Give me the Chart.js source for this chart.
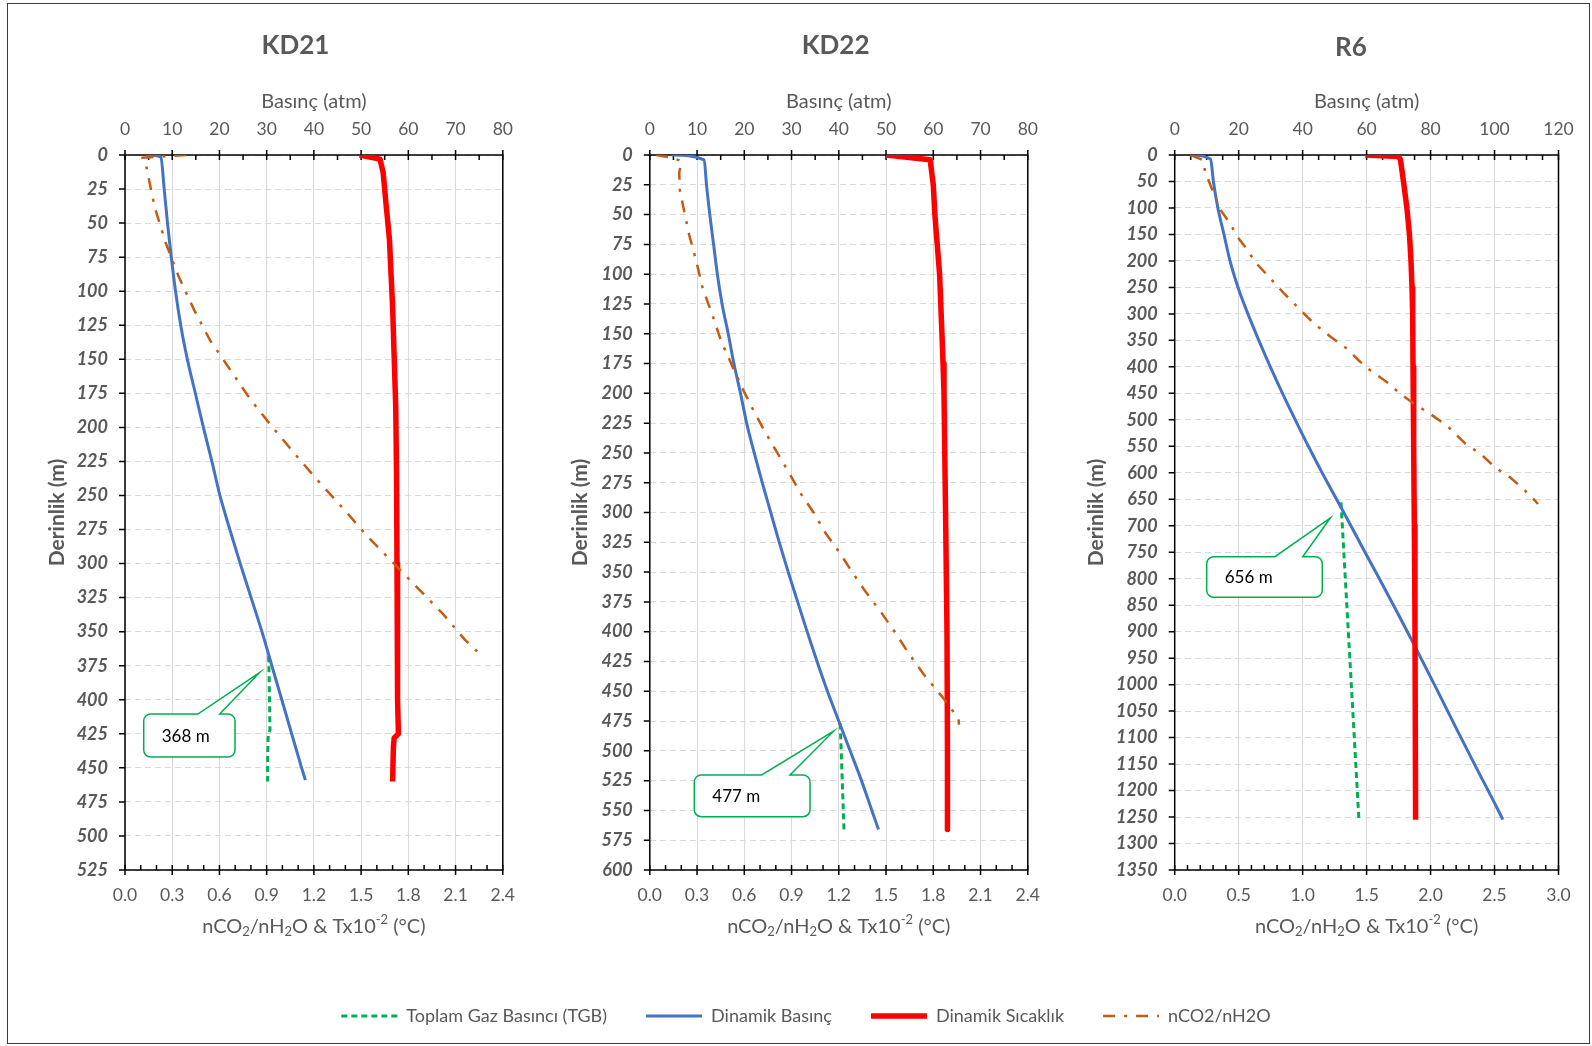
<!DOCTYPE html>
<html lang="tr">
<head>
<meta charset="utf-8">
<title>KD21, KD22, R6 – Derinlik profilleri</title>
<script src="https://cdn.jsdelivr.net/npm/chart.js@4.4.1/dist/chart.umd.min.js"></script>
<style>
  html, body { margin: 0; padding: 0; background: #ffffff; }
  body { width: 1592px; height: 1046px; position: relative; overflow: hidden; }
  #frame { position: absolute; left: 7px; top: 3px; width: 1583px; height: 1041px; border: 1px solid #3c3c3c; box-sizing: border-box; }
  .box { position: absolute; }
  #p1 { left: 0; top: 0; width: 530px; height: 960px; }
  #p2 { left: 530px; top: 0; width: 525px; height: 960px; }
  #p3 { left: 1055px; top: 0; width: 537px; height: 960px; }
  #lg { left: 10px; top: 968px; width: 1592px; height: 78px; }
</style>
</head>
<body>
<div id="frame"></div>
<div class="box" id="p1"><canvas id="c1"></canvas></div>
<div class="box" id="p2"><canvas id="c2"></canvas></div>
<div class="box" id="p3"><canvas id="c3"></canvas></div>
<div class="box" id="lg"><canvas id="c4"></canvas></div>
<script>
// ---------- KD21 ----------
const kd21PresAxis = [0, 80, 10];        // Basınç (atm): min, max, step
const kd21RatioAxis = [0, 2.4, 0.3];     // nCO2/nH2O & Tx10^-2
const kd21DepthAxis = [0, 525, 25];      // Derinlik (m)
const kd21TgbDepth = [368, 380, 400, 422, 428, 445, 460];
const kd21Tgb      = [30.4, 30.5, 30.6, 30.7, 30.3, 30.2, 30.2];
const kd21PresDepth = [0, 1.5, 25, 50, 75, 100, 125, 150, 175, 200, 225, 250, 275, 300, 325, 350, 375, 400, 425, 450, 459];
const kd21Pres      = [4.5, 7.6, 8.3, 9.0, 9.8, 10.7, 11.8, 13.2, 14.9, 16.6, 18.4, 20.1, 22.2, 24.4, 26.7, 29.0, 31.1, 33.2, 35.3, 37.4, 38.2];
const kd21TempDepth = [0, 3, 13, 38, 62, 87, 111, 148, 185, 234, 300, 350, 400, 425, 428, 435, 460];
const kd21Temp      = [1.49, 1.62, 1.64, 1.66, 1.68, 1.69, 1.70, 1.71, 1.72, 1.725, 1.728, 1.73, 1.733, 1.737, 1.71, 1.705, 1.70];
const kd21RatioDepth = [0, 2, 5, 14, 39, 65, 89, 114, 136, 158, 180, 201, 221, 241, 260, 280, 299, 318, 337, 356, 368];
const kd21Ratio      = [0.39, 0.11, 0.13, 0.145, 0.19, 0.26, 0.34, 0.44, 0.54, 0.67, 0.80, 0.945, 1.09, 1.24, 1.39, 1.54, 1.70, 1.86, 2.02, 2.16, 2.27];

// ---------- KD22 ----------
const kd22PresAxis = [0, 80, 10];
const kd22RatioAxis = [0, 2.4, 0.3];
const kd22DepthAxis = [0, 600, 25];
const kd22TgbDepth = [477, 566];
const kd22Tgb      = [40.3, 41.1];
const kd22PresDepth = [0, 4, 25, 50, 75, 100, 125, 150, 175, 200, 225, 250, 275, 300, 325, 350, 375, 400, 425, 450, 475, 500, 525, 550, 566];
const kd22Pres      = [4.6, 11.5, 12.0, 12.7, 13.5, 14.3, 15.3, 16.6, 17.8, 19.2, 20.5, 22.1, 23.8, 25.6, 27.4, 29.3, 31.3, 33.3, 35.4, 37.6, 40.0, 42.4, 44.8, 47.0, 48.4];
const kd22TempDepth = [0, 4, 25, 50, 75, 100, 150, 175, 200, 300, 400, 500, 566];
const kd22Temp      = [1.50, 1.78, 1.80, 1.81, 1.825, 1.84, 1.855, 1.862, 1.868, 1.878, 1.887, 1.89, 1.89];
const kd22RatioDepth = [0, 2, 5, 15, 29, 47, 67, 89, 112, 133, 155, 177, 195, 214, 232, 250, 267, 284, 300, 317, 334, 351, 367, 384, 401, 419, 436, 456, 473, 478];
const kd22Ratio      = [0.04, 0.13, 0.20, 0.187, 0.19, 0.218, 0.25, 0.295, 0.336, 0.394, 0.45, 0.523, 0.585, 0.657, 0.73, 0.81, 0.886, 0.958, 1.04, 1.114, 1.207, 1.29, 1.373, 1.47, 1.56, 1.648, 1.74, 1.865, 1.96, 1.963];

// ---------- R6 ----------
const r6PresAxis = [0, 120, 20];
const r6RatioAxis = [0, 3.0, 0.5];
const r6DepthAxis = [0, 1350, 50];
const r6TgbDepth = [656, 880, 1255];
const r6Tgb      = [52.0, 54.1, 57.6];
const r6PresDepth = [0, 7.5, 50, 100, 150, 200, 250, 300, 350, 400, 450, 500, 550, 600, 650, 700, 750, 800, 850, 918, 1000, 1082, 1158, 1233, 1255];
const r6Pres      = [4.8, 11.2, 12.1, 13.5, 15.4, 17.3, 19.8, 22.9, 26.3, 29.9, 33.7, 37.7, 41.8, 46.1, 50.6, 55.1, 59.5, 64.0, 68.4, 74.3, 81.2, 88.0, 94.4, 100.8, 102.6];
const r6TempDepth = [0, 3, 9, 53, 100, 150, 200, 250, 300, 400, 550, 700, 880, 1255];
const r6Temp      = [1.49, 1.75, 1.765, 1.79, 1.815, 1.835, 1.847, 1.855, 1.86, 1.863, 1.868, 1.873, 1.878, 1.883];
const r6RatioDepth = [0, 9, 34, 66, 102, 129, 154, 179, 203, 230, 261, 293, 318, 343, 366, 388, 407, 429, 451, 467, 489, 511, 545, 564, 590, 609, 631, 653, 659];
const r6Ratio      = [0.125, 0.216, 0.242, 0.294, 0.354, 0.432, 0.489, 0.567, 0.632, 0.736, 0.853, 0.984, 1.088, 1.218, 1.348, 1.439, 1.53, 1.66, 1.764, 1.855, 1.998, 2.128, 2.272, 2.389, 2.506, 2.623, 2.727, 2.818, 2.84];

// ---------- shared look ----------
const FONT = "Lato, 'Open Sans', 'DejaVu Sans', sans-serif";
const GREY = '#595959';
const SERIES = {
  tgb:   { label: 'Toplam Gaz Basıncı (TGB)', color: '#00B050', width: 3, dash: [6, 4], order: 4 },
  pres:  { label: 'Dinamik Basınç',           color: '#4472C4', width: 3, dash: [], order: 3 },
  temp:  { label: 'Dinamik Sıcaklık',         color: '#FF0000', width: 5.5, dash: [], order: 2 },
  ratio: { label: 'nCO2/nH2O',                color: '#C55A11', width: 2.5, dash: [12, 9, 3, 9], order: 1 }
};

const toPoints = (depths, vals) => depths.map((d, i) => ({ x: vals[i], y: d }));

function series(key, depths, vals, axis) {
  const s = SERIES[key];
  return {
    label: s.label, data: toPoints(depths, vals), xAxisID: axis, yAxisID: 'y',
    borderColor: s.color, backgroundColor: s.color, borderWidth: s.width,
    borderDash: s.dash, showLine: true, pointRadius: 0, pointHoverRadius: 0,
    tension: key === 'pres' ? 0.35 : 0, cubicInterpolationMode: key === 'pres' ? 'monotone' : 'default',
    order: s.order, borderCapStyle: 'butt', borderJoinStyle: 'round'
  };
}

// Black plot frame, crossing major ticks and inward minor ticks
const frameTicks = {
  id: 'frameTicks',
  beforeDatasetsDraw(chart, args, o) {
    const { ctx, chartArea: a } = chart;
    const top = chart.scales.xTop, bot = chart.scales.x, ys = chart.scales.y;
    ctx.save();
    ctx.strokeStyle = '#000';
    ctx.lineWidth = 1.5;
    ctx.setLineDash([]);
    ctx.strokeRect(a.left, a.top, a.right - a.left, a.bottom - a.top);
    ctx.beginPath();
    const nTop = Math.round((top.max - top.min) / o.topMinor);
    const perTop = Math.round(o.topMajor / o.topMinor);
    for (let i = 0; i <= nTop; i++) {
      const px = top.getPixelForValue(top.min + i * o.topMinor);
      const major = i % perTop === 0;
      ctx.moveTo(px, a.top - (major ? 5 : 0));
      ctx.lineTo(px, a.top + 5);
    }
    const nBot = Math.round((bot.max - bot.min) / o.botMinor);
    const perBot = Math.round(o.botMajor / o.botMinor);
    for (let i = 0; i <= nBot; i++) {
      const px = bot.getPixelForValue(bot.min + i * o.botMinor);
      const major = i % perBot === 0;
      ctx.moveTo(px, a.bottom + (major ? 5 : 0));
      ctx.lineTo(px, a.bottom - 5);
    }
    ys.ticks.forEach(t => {
      const py = ys.getPixelForValue(t.value);
      ctx.moveTo(a.left - 6, py);
      ctx.lineTo(a.left, py);
    });
    ctx.stroke();
    ctx.restore();
  }
};

// Panel title, bottom axis title with sub/superscripts, TGB depth callout
const panelDecor = {
  id: 'panelDecor',
  afterDraw(chart, args, o) {
    const { ctx, chartArea: a, scales } = chart;
    ctx.save();
    // panel title
    ctx.fillStyle = GREY;
    ctx.font = `bold 26px ${FONT}`;
    ctx.textAlign = 'center';
    ctx.textBaseline = 'middle';
    ctx.fillText(o.title, a.left + o.titleX, o.titleY);

    // bottom axis title: nCO2/nH2O & Tx10-2 (°C)
    const base = 20, small = 13;
    const parts = [
      { t: 'nCO' }, { t: '2', dy: 5 }, { t: '/nH' }, { t: '2', dy: 5 },
      { t: 'O & Tx10' }, { t: '-2', dy: -7 }, { t: ' (°C)' }
    ];
    let total = 0;
    parts.forEach(p => {
      ctx.font = `${p.dy ? small : base}px ${FONT}`;
      p.w = ctx.measureText(p.t).width;
      total += p.w;
    });
    let x = (a.left + a.right) / 2 - total / 2;
    ctx.textAlign = 'left';
    parts.forEach(p => {
      ctx.font = `${p.dy ? small : base}px ${FONT}`;
      ctx.fillText(p.t, x, o.bottomTitleY + (p.dy || 0));
      x += p.w;
    });

    // callout pointing at the start of the TGB line
    const c = o.callout;
    const tipX = scales.xTop.getPixelForValue(c.tipAtm);
    const tipY = scales.y.getPixelForValue(c.tipDepth);
    const L = a.left + c.box[0], T = a.top + c.box[1], W = c.box[2], H = c.box[3], r = 7;
    const b1 = a.left + c.base[0], b2 = a.left + c.base[1];
    ctx.beginPath();
    ctx.moveTo(L + r, T);
    ctx.lineTo(b1, T);
    ctx.lineTo(tipX, tipY);
    ctx.lineTo(b2, T);
    ctx.lineTo(L + W - r, T);
    ctx.arcTo(L + W, T, L + W, T + r, r);
    ctx.lineTo(L + W, T + H - r);
    ctx.arcTo(L + W, T + H, L + W - r, T + H, r);
    ctx.lineTo(L + r, T + H);
    ctx.arcTo(L, T + H, L, T + H - r, r);
    ctx.lineTo(L, T + r);
    ctx.arcTo(L, T, L + r, T, r);
    ctx.closePath();
    ctx.fillStyle = '#ffffff';
    ctx.fill();
    ctx.strokeStyle = '#00B050';
    ctx.lineWidth = 1.5;
    ctx.lineJoin = 'miter';
    ctx.stroke();
    ctx.fillStyle = '#000000';
    ctx.font = `17px ${FONT}`;
    ctx.textAlign = 'left';
    ctx.textBaseline = 'middle';
    ctx.fillText(c.text, L + 18, T + H / 2 + 1);
    ctx.restore();
  }
};

function makePanel(canvasId, p) {
  return new Chart(document.getElementById(canvasId), {
    type: 'scatter',
    data: {
      datasets: [
        series('tgb', p.tgbDepth, p.tgb, 'xTop'),
        series('pres', p.presDepth, p.pres, 'xTop'),
        series('temp', p.tempDepth, p.temp, 'x'),
        series('ratio', p.ratioDepth, p.ratio, 'x')
      ]
    },
    plugins: [frameTicks, panelDecor],
    options: {
      responsive: true,
      maintainAspectRatio: false,
      animation: false,
      devicePixelRatio: 1,
      events: [],
      layout: { padding: { top: 80, bottom: 10, left: 0, right: p.padRight } },
      scales: {
        xTop: {
          type: 'linear', position: 'top',
          min: p.presAxis[0], max: p.presAxis[1],
          ticks: { stepSize: p.presAxis[2], padding: 15, color: GREY, autoSkip: false, maxRotation: 0,
                   font: { family: FONT, size: 17.5 } },
          grid: { display: false, drawTicks: false },
          border: { display: false },
          title: { display: true, text: 'Basınç (atm)', color: GREY,
                   font: { family: FONT, size: 20 }, padding: { top: 9.5, bottom: 0 } },
          afterFit: s => { s.height = 75; }
        },
        x: {
          type: 'linear', position: 'bottom',
          min: p.ratioAxis[0], max: p.ratioAxis[1],
          ticks: { stepSize: p.ratioAxis[2], padding: 15, color: GREY, autoSkip: false, maxRotation: 0,
                   font: { family: FONT, size: 17.5 }, callback: v => Number(v).toFixed(1) },
          grid: { color: '#D9D9D9', lineWidth: 1, drawTicks: false },
          border: { display: false },
          afterFit: s => { s.height = 80; }
        },
        y: {
          type: 'linear', position: 'left', reverse: true,
          min: p.depthAxis[0], max: p.depthAxis[1],
          ticks: { stepSize: p.depthAxis[2], padding: 17, color: GREY, autoSkip: false,
                   font: { family: FONT, size: 18, weight: 'bold', style: 'italic' },
                   callback: v => String(v) },
          grid: { color: '#D9D9D9', lineWidth: 1, drawTicks: false },
          border: { display: false, dash: [6, 4] },
          title: { display: true, text: 'Derinlik (m)', color: GREY,
                   font: { family: FONT, size: 21, weight: 'bold' }, padding: { top: p.yTitlePad, bottom: 0 } },
          afterFit: s => { s.width = p.yWidth; }
        }
      },
      plugins: {
        legend: { display: false },
        tooltip: { enabled: false },
        frameTicks: { topMajor: p.presAxis[2], topMinor: p.topMinor, botMajor: p.ratioAxis[2], botMinor: 0.1 },
        panelDecor: {
          title: p.title, titleX: p.titleX, titleY: p.titleY, bottomTitleY: 927,
          callout: { text: p.tgbDepth[0] + ' m', tipAtm: p.tip[0], tipDepth: p.tip[1], box: p.box, base: p.base }
        }
      }
    }
  });
}

makePanel('c1', {
  title: 'KD21', titleX: 170.5, titleY: 46,
  presAxis: kd21PresAxis, ratioAxis: kd21RatioAxis, depthAxis: kd21DepthAxis, topMinor: 5,
  tgbDepth: kd21TgbDepth, tgb: kd21Tgb, presDepth: kd21PresDepth, pres: kd21Pres,
  tempDepth: kd21TempDepth, temp: kd21Temp, ratioDepth: kd21RatioDepth, ratio: kd21Ratio,
  yWidth: 125, yTitlePad: 44.5, padRight: 19.3,
  tip: [28.5, 380], box: [18.7, 559, 91.3, 43], base: [72.8, 94.7]
});

makePanel('c2', {
  title: 'KD22', titleX: 185.8, titleY: 46,
  presAxis: kd22PresAxis, ratioAxis: kd22RatioAxis, depthAxis: kd22DepthAxis, topMinor: 5,
  tgbDepth: kd22TgbDepth, tgb: kd22Tgb, presDepth: kd22PresDepth, pres: kd22Pres,
  tempDepth: kd22TempDepth, temp: kd22Temp, ratioDepth: kd22RatioDepth, ratio: kd22Ratio,
  yWidth: 119.8, yTitlePad: 37.5, padRight: 20.4,
  tip: [38.9, 483.5], box: [44.5, 620, 115.7, 41.7], base: [111.9, 140.2]
});

makePanel('c3', {
  title: 'R6', titleX: 176.3, titleY: 48,
  presAxis: r6PresAxis, ratioAxis: r6RatioAxis, depthAxis: r6DepthAxis, topMinor: 5,
  tgbDepth: r6TgbDepth, tgb: r6Tgb, presDepth: r6PresDepth, pres: r6Pres,
  tempDepth: r6TempDepth, temp: r6Temp, ratioDepth: r6RatioDepth, ratio: r6Ratio,
  yWidth: 119.7, yTitlePad: 29, padRight: 33.5,
  tip: [48.7, 685], box: [32, 401.7, 115.6, 40.6], base: [100.3, 128]
});

// Shared legend underneath the three panels
new Chart(document.getElementById('c4'), {
  type: 'line',
  data: {
    datasets: ['tgb', 'pres', 'temp', 'ratio'].map(k => ({
      label: SERIES[k].label, data: [], borderColor: SERIES[k].color,
      backgroundColor: SERIES[k].color, borderWidth: SERIES[k].width, borderDash: SERIES[k].dash
    }))
  },
  options: {
    responsive: true, maintainAspectRatio: false, animation: false, devicePixelRatio: 1, events: [],
    layout: { padding: 0 },
    scales: { x: { display: false }, y: { display: false } },
    plugins: {
      tooltip: { enabled: false },
      legend: {
        display: true, position: 'top', align: 'center', maxHeight: 300,
        labels: {
          usePointStyle: true, pointStyleWidth: 56, boxHeight: 18, padding: 39,
          color: GREY, font: { family: FONT, size: 18 },
          generateLabels: chart => chart.data.datasets.map((d, i) => ({
            text: d.label, fillStyle: d.borderColor, strokeStyle: d.borderColor,
            lineWidth: d.borderWidth, lineDash: d.borderDash || [], lineCap: 'butt',
            pointStyle: 'line', fontColor: GREY, hidden: false, datasetIndex: i
          }))
        }
      }
    }
  }
});
</script>
</body>
</html>
